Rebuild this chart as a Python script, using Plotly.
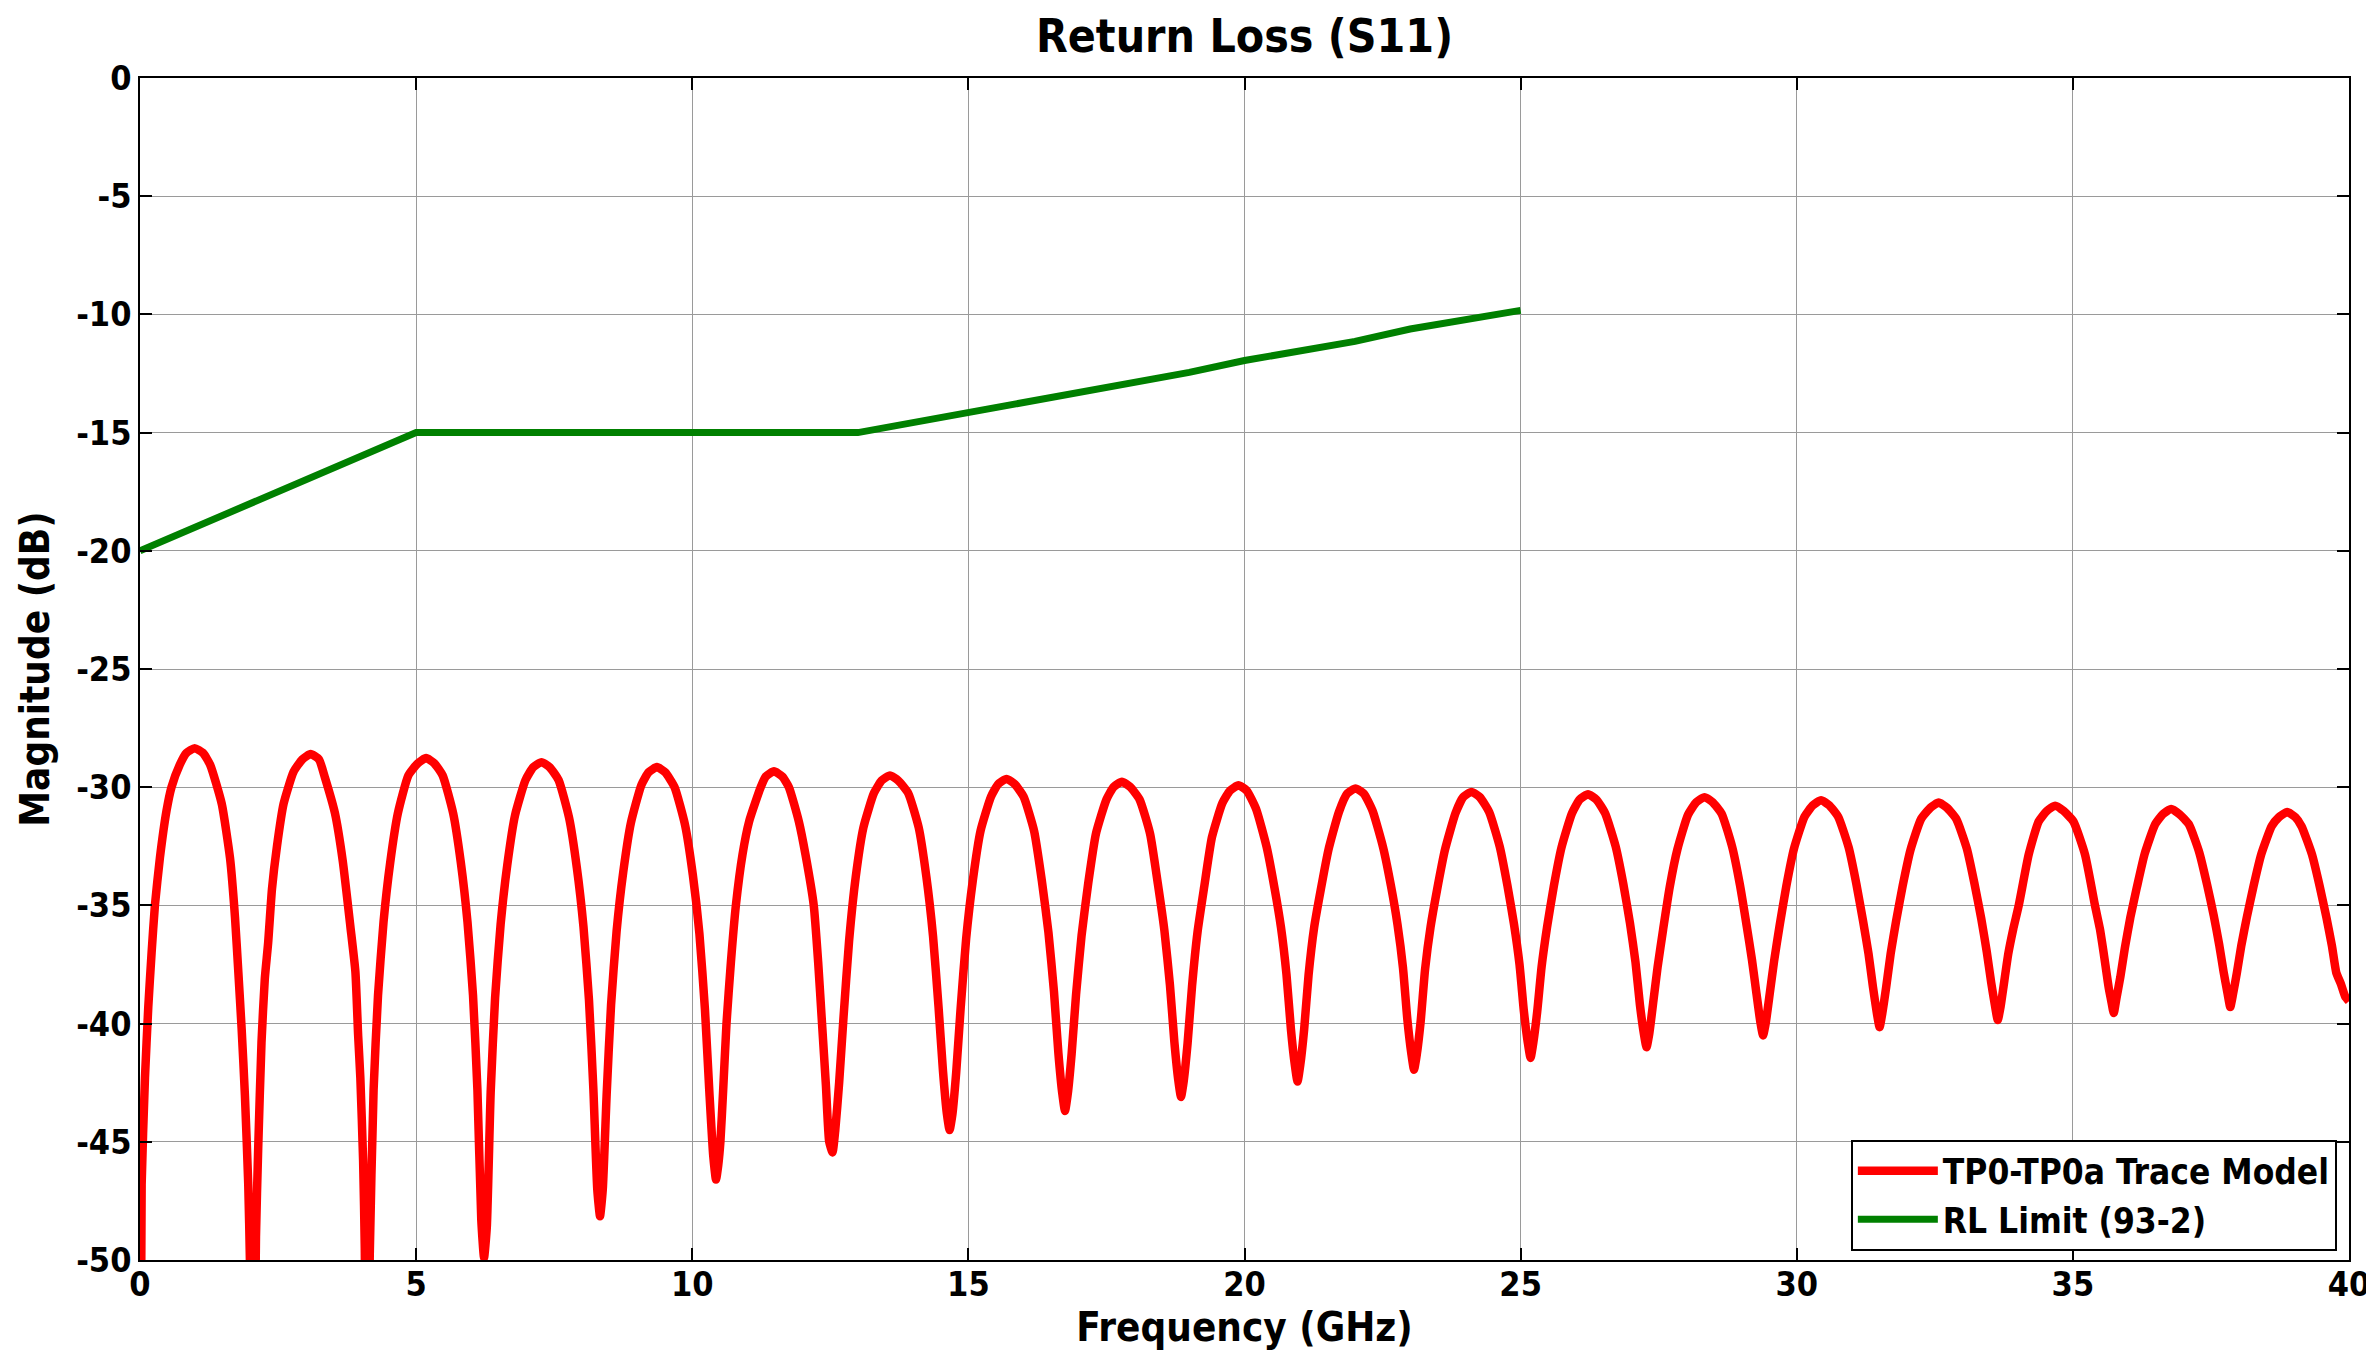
import plotly.graph_objects as go

# ---------------- data ----------------
# RL limit (93-2), green
limit_freq_ghz = [0, 1, 2, 3, 4, 5, 13, 14, 15, 16, 17, 18, 19, 20, 21, 22, 23, 24, 25]
limit_db = [-20.0, -19.0, -18.0, -17.0, -16.0, -15.0, -15.0, -14.58, -14.16, -13.7,
            -13.28, -12.87, -12.45, -11.95, -11.55, -11.14, -10.62, -10.22, -9.83]

# TP0-TP0a trace model S11, red: (frequency GHz, magnitude dB), read lobe by lobe
trace_points = [
    (0.00, -62.0), (0.03, -46.8), (0.09, -42.3), (0.15, -39.3), (0.21, -37.0), (0.27, -35.0),
    (0.36, -33.0), (0.48, -31.0), (0.57, -30.0), (0.72, -29.05), (0.84, -28.55), (0.99, -28.35),
    (1.14, -28.55), (1.27, -29.05), (1.48, -30.7), (1.63, -33.0), (1.72, -35.5), (1.78, -37.8),
    (1.84, -40.2), (1.90, -43.05), (1.96, -46.8), (1.99, -50.0), (2.04, -62.0),
    (2.10, -49.0), (2.14, -45.3), (2.20, -40.8), (2.26, -38.1), (2.32, -36.6), (2.39, -34.3),
    (2.48, -32.5), (2.60, -30.7), (2.78, -29.35), (2.94, -28.82), (3.09, -28.6),
    (3.24, -28.82), (3.35, -29.6), (3.53, -31.1), (3.67, -33.1), (3.81, -35.9), (3.90, -37.8),
    (3.95, -40.5), (3.99, -42.3), (4.04, -45.8), (4.07, -49.5), (4.11, -62.0),
    (4.16, -49.8), (4.23, -42.8), (4.31, -38.8), (4.41, -35.7), (4.53, -33.2), (4.67, -31.1),
    (4.86, -29.5), (5.03, -28.99), (5.18, -28.77),
    (5.33, -28.99), (5.48, -29.5), (5.67, -31.1), (5.81, -33.2), (5.93, -35.7), (6.03, -38.8),
    (6.11, -42.8), (6.18, -48.3), (6.23, -49.9),
    (6.28, -48.6), (6.35, -42.9), (6.43, -38.9), (6.53, -35.8), (6.65, -33.3), (6.79, -31.2),
    (6.98, -29.7), (7.12, -29.16), (7.27, -28.94),
    (7.42, -29.16), (7.58, -29.7), (7.77, -31.3), (7.91, -33.4), (8.03, -35.9), (8.13, -39.0),
    (8.21, -42.8), (8.28, -47.0), (8.33, -48.15),
    (8.38, -47.0), (8.45, -43.0), (8.53, -39.2), (8.63, -36.1), (8.75, -33.6), (8.89, -31.5),
    (9.08, -29.9), (9.21, -29.37), (9.36, -29.15),
    (9.51, -29.37), (9.68, -30.0), (9.87, -31.6), (10.01, -33.7), (10.13, -36.2), (10.23, -39.4),
    (10.31, -42.9), (10.38, -45.6), (10.43, -46.6),
    (10.47, -46.0), (10.51, -45.0), (10.56, -42.8), (10.62, -40.0), (10.70, -37.4), (10.79, -35.0),
    (10.91, -32.85), (11.03, -31.45), (11.24, -30.0), (11.33, -29.55), (11.48, -29.33),
    (11.63, -29.55), (11.75, -30.0), (11.93, -31.45), (12.05, -32.85), (12.20, -35.0),
    (12.28, -37.4), (12.35, -40.0), (12.42, -42.6), (12.48, -45.0), (12.54, -45.45),
    (12.59, -44.5), (12.66, -42.5), (12.74, -39.7), (12.84, -36.5), (12.96, -33.8), (13.10, -31.7),
    (13.29, -30.25), (13.43, -29.72), (13.58, -29.5),
    (13.73, -29.72), (13.91, -30.25), (14.10, -31.7), (14.24, -33.8), (14.36, -36.3), (14.46, -39.3),
    (14.54, -42.0), (14.61, -43.8), (14.66, -44.5),
    (14.71, -43.85), (14.78, -42.05), (14.86, -39.35), (14.96, -36.4), (15.08, -33.95),
    (15.22, -31.85), (15.41, -30.4), (15.54, -29.87), (15.69, -29.65),
    (15.84, -29.87), (16.00, -30.4), (16.19, -31.85), (16.33, -33.95), (16.45, -36.15),
    (16.55, -38.65), (16.63, -41.25), (16.70, -42.95), (16.75, -43.7),
    (16.80, -42.97), (16.87, -41.27), (16.95, -38.77), (17.05, -36.27), (17.17, -34.07),
    (17.31, -31.97), (17.50, -30.52), (17.63, -29.99), (17.78, -29.77),
    (17.93, -29.99), (18.10, -30.52), (18.29, -31.97), (18.43, -34.07), (18.55, -36.07),
    (18.65, -38.37), (18.73, -40.77), (18.80, -42.37), (18.85, -43.1),
    (18.90, -42.42), (18.97, -40.82), (19.05, -38.42), (19.15, -36.12), (19.27, -34.22),
    (19.41, -32.12), (19.60, -30.67), (19.74, -30.14), (19.89, -29.92),
    (20.04, -30.14), (20.21, -30.92), (20.40, -32.52), (20.54, -34.22), (20.66, -35.92),
    (20.76, -37.92), (20.84, -40.22), (20.91, -41.72), (20.96, -42.45),
    (21.01, -41.75), (21.08, -40.25), (21.16, -37.95), (21.26, -35.95), (21.38, -34.35),
    (21.52, -32.65), (21.71, -31.05), (21.86, -30.27), (22.01, -30.05),
    (22.16, -30.27), (22.32, -31.0), (22.51, -32.55), (22.65, -34.15), (22.77, -35.8),
    (22.87, -37.65), (22.95, -39.85), (23.02, -41.25), (23.07, -41.95),
    (23.12, -41.3), (23.19, -39.9), (23.27, -37.7), (23.37, -35.9), (23.49, -34.3),
    (23.63, -32.65), (23.82, -31.1), (23.96, -30.42), (24.11, -30.2),
    (24.26, -30.42), (24.43, -31.05), (24.62, -32.5), (24.76, -34.15), (24.88, -35.8),
    (24.98, -37.5), (25.06, -39.5), (25.13, -40.8), (25.18, -41.45),
    (25.23, -40.8), (25.30, -39.5), (25.38, -37.6), (25.48, -35.9), (25.60, -34.2),
    (25.74, -32.55), (25.93, -31.1), (26.07, -30.52), (26.22, -30.3),
    (26.37, -30.52), (26.53, -31.1), (26.72, -32.5), (26.86, -34.1), (26.98, -35.75),
    (27.08, -37.4), (27.16, -39.2), (27.23, -40.4), (27.28, -41.0),
    (27.33, -40.42), (27.40, -39.12), (27.48, -37.62), (27.58, -36.02), (27.70, -34.22),
    (27.84, -32.62), (28.03, -31.17), (28.18, -30.64), (28.33, -30.42),
    (28.48, -30.64), (28.64, -31.12), (28.83, -32.52), (28.97, -34.12), (29.09, -35.82),
    (29.19, -37.32), (29.27, -38.72), (29.34, -39.92), (29.39, -40.5),
    (29.44, -39.95), (29.51, -38.75), (29.59, -37.35), (29.69, -35.85), (29.81, -34.2),
    (29.95, -32.6), (30.14, -31.25), (30.29, -30.77), (30.44, -30.55),
    (30.59, -30.77), (30.75, -31.25), (30.94, -32.55), (31.08, -34.1), (31.20, -35.65),
    (31.30, -37.05), (31.38, -38.45), (31.45, -39.55), (31.50, -40.15),
    (31.55, -39.55), (31.62, -38.45), (31.70, -37.05), (31.80, -35.65), (31.92, -34.15),
    (32.06, -32.65), (32.25, -31.35), (32.42, -30.87), (32.57, -30.65),
    (32.72, -30.87), (32.89, -31.35), (33.08, -32.6), (33.22, -34.1), (33.34, -35.55),
    (33.44, -36.95), (33.52, -38.25), (33.59, -39.25), (33.64, -39.85),
    (33.69, -39.3), (33.74, -38.5), (33.83, -37.05), (33.92, -36.0), (34.02, -35.0),
    (34.20, -32.85), (34.38, -31.45), (34.53, -31.0), (34.68, -30.78),
    (34.83, -31.0), (35.01, -31.45), (35.22, -32.85), (35.40, -35.0), (35.49, -36.0),
    (35.56, -37.05), (35.65, -38.5), (35.70, -39.1), (35.74, -39.55),
    (35.79, -38.92), (35.86, -38.02), (35.94, -36.82), (36.04, -35.52), (36.16, -34.22),
    (36.30, -32.82), (36.49, -31.57), (36.63, -31.14), (36.78, -30.92),
    (36.93, -31.14), (37.10, -31.57), (37.29, -32.77), (37.43, -34.12), (37.55, -35.42),
    (37.65, -36.67), (37.73, -37.82), (37.80, -38.72), (37.85, -39.3),
    (37.90, -38.75), (37.97, -37.85), (38.05, -36.7), (38.15, -35.5), (38.27, -34.2),
    (38.41, -32.85), (38.60, -31.65), (38.73, -31.27), (38.88, -31.05),
    (39.03, -31.27), (39.14, -31.65), (39.33, -32.85), (39.47, -34.2), (39.59, -35.5),
    (39.69, -36.7), (39.77, -37.85), (39.85, -38.3), (39.93, -38.85), (40.00, -39.05),
]
trace_freq_ghz = [p[0] for p in trace_points]
trace_db = [p[1] for p in trace_points]

x_tick_vals = [0, 5, 10, 15, 20, 25, 30, 35, 40]
x_tick_text = ["0", "5", "10", "15", "20", "25", "30", "35", "40"]
y_tick_vals = [0, -5, -10, -15, -20, -25, -30, -35, -40, -45, -50]
y_tick_text = ["0", "-5", "-10", "-15", "-20", "-25", "-30", "-35", "-40", "-45", "-50"]

series_names = ["TP0-TP0a Trace Model", "RL Limit (93-2)"]

# ---------------- figure ----------------
FONT = "Liberation Sans Narrow, Arial Narrow, DejaVu Sans Condensed, Liberation Sans, Arial, sans-serif"

fig = go.Figure()
fig.add_trace(go.Scatter(x=trace_freq_ghz, y=trace_db, mode="lines",
                         name=series_names[0],
                         line=dict(color="#ff0000", width=8.5, shape="spline", smoothing=0.5)))
fig.add_trace(go.Scatter(x=limit_freq_ghz, y=limit_db, mode="lines",
                         name=series_names[1],
                         line=dict(color="#008000", width=7)))

axis_common = dict(
    showline=True, linecolor="black", linewidth=1.5, mirror="allticks",
    ticks="inside", ticklen=12, tickwidth=1.5, tickcolor="black",
    showgrid=True, gridcolor="#9a9a9a", gridwidth=1,
    zeroline=False,
    tickfont=dict(family=FONT, size=34, color="black", weight="bold"),
)

fig.update_layout(
    width=2374, height=1354,
    margin=dict(l=132, r=33, t=70, b=102, autoexpand=False),
    paper_bgcolor="white", plot_bgcolor="white",
    title=dict(text="Return Loss (S11)", x=0.5, xref="paper", xanchor="center",
               y=1 - 28 / 1354, yanchor="middle",
               font=dict(family=FONT, size=46, color="black", weight="bold")),
    xaxis=dict(range=[0, 40], tickvals=x_tick_vals, ticktext=x_tick_text,
               ticklabelstandoff=-7,
               title=dict(text="Frequency (GHz)", standoff=4,
                          font=dict(family=FONT, size=40, color="black", weight="bold")),
               **axis_common),
    yaxis=dict(range=[-50, 0], tickvals=y_tick_vals, ticktext=y_tick_text,
               title=dict(text="Magnitude (dB)", standoff=14,
                          font=dict(family=FONT, size=40, color="black", weight="bold")),
               **axis_common),
    showlegend=True,
    legend=dict(x=0.9945, xanchor="right", y=0.008, yanchor="bottom",
                bgcolor="white", bordercolor="black", borderwidth=2,
                font=dict(family=FONT, size=35, color="black", weight="bold"),
                itemwidth=80, tracegroupgap=0),
)

fig.write_html("out.html")
